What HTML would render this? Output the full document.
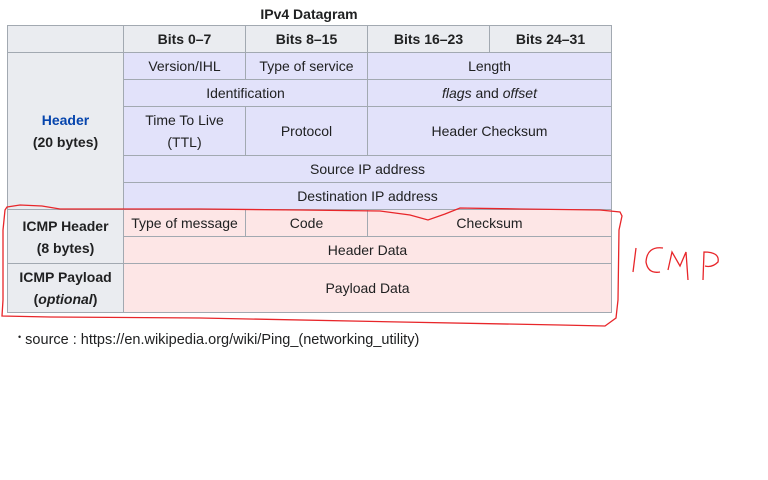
<!DOCTYPE html>
<html><head><meta charset="utf-8"><style>
body{margin:0;width:768px;height:480px;background:#fff;position:relative;overflow:hidden;font-family:"Liberation Sans",Arial,sans-serif;color:#202122}
.c{position:absolute;box-sizing:border-box;border:1px solid #a2a9b1;display:flex;align-items:center;justify-content:center;text-align:center;font-size:14px;line-height:22px}
.g{background:#eaecf0;font-weight:bold}
.b{background:#e2e2fa}
.p{background:#fde6e6}
</style></head><body>
<div style="position:absolute;left:0;top:6px;width:618px;text-align:center;font-weight:bold;font-size:14px">IPv4 Datagram</div>
<div class="c g" style="left:7px;top:25px;width:117px;height:28px"></div>
<div class="c g" style="left:123px;top:25px;width:123px;height:28px">Bits 0–7</div>
<div class="c g" style="left:245px;top:25px;width:123px;height:28px">Bits 8–15</div>
<div class="c g" style="left:367px;top:25px;width:123px;height:28px">Bits 16–23</div>
<div class="c g" style="left:489px;top:25px;width:123px;height:28px">Bits 24–31</div>
<div class="c g" style="left:7px;top:52px;width:117px;height:158px"><div><span style="color:#0645ad">Header</span><br>(20 bytes)</div></div>
<div class="c b" style="left:123px;top:52px;width:123px;height:28px">Version/IHL</div>
<div class="c b" style="left:245px;top:52px;width:123px;height:28px">Type of service</div>
<div class="c b" style="left:367px;top:52px;width:245px;height:28px">Length</div>
<div class="c b" style="left:123px;top:79px;width:245px;height:28px">Identification</div>
<div class="c b" style="left:367px;top:79px;width:245px;height:28px"><span><i>flags</i> and <i>offset</i></span></div>
<div class="c b" style="left:123px;top:106px;width:123px;height:50px">Time To Live<br>(TTL)</div>
<div class="c b" style="left:245px;top:106px;width:123px;height:50px">Protocol</div>
<div class="c b" style="left:367px;top:106px;width:245px;height:50px">Header Checksum</div>
<div class="c b" style="left:123px;top:155px;width:489px;height:28px">Source IP address</div>
<div class="c b" style="left:123px;top:182px;width:489px;height:28px">Destination IP address</div>
<div class="c g" style="left:7px;top:209px;width:117px;height:55px">ICMP Header<br>(8 bytes)</div>
<div class="c p" style="left:123px;top:209px;width:123px;height:28px">Type of message</div>
<div class="c p" style="left:245px;top:209px;width:123px;height:28px">Code</div>
<div class="c p" style="left:367px;top:209px;width:245px;height:28px">Checksum</div>
<div class="c p" style="left:123px;top:236px;width:489px;height:28px">Header Data</div>
<div class="c g" style="left:7px;top:263px;width:117px;height:50px"><div>ICMP Payload<br>(<i>optional</i>)</div></div>
<div class="c p" style="left:123px;top:263px;width:489px;height:50px">Payload Data</div>
<div style="position:absolute;left:18px;top:332px;font-size:14.5px;white-space:nowrap"><span style="font-size:9px;vertical-align:4px">•</span> source : https://en.wikipedia.org/wiki/Ping_(networking_utility)</div>
<svg width="768" height="480" style="position:absolute;left:0;top:0" fill="none" stroke="#e8262a" stroke-width="1.3">
<path d="M7,207 L20,205 L42,206 L60,209 L200,209 L300,210 L380,211 L410,215 L428,220 L445,214 L460,208 L520,209 L600,210 L620,212 L622,216 L619,230 L618,300 L616,318 L605,326 L560,325 L400,322 L200,318 L50,317 L2,316 L3,300 L3,230 L5,210 Z"/>
<path d="M636,248 L633,272"/>
<path d="M663,248 Q647,246 646,262 Q648,274 660,272"/>
<path d="M668,270 L672,252 L680,266 L686,252 L688,280"/>
<path d="M703,280 L704,252 Q720,252 718,262 Q712,268 705,266"/>
</svg>
</body></html>
